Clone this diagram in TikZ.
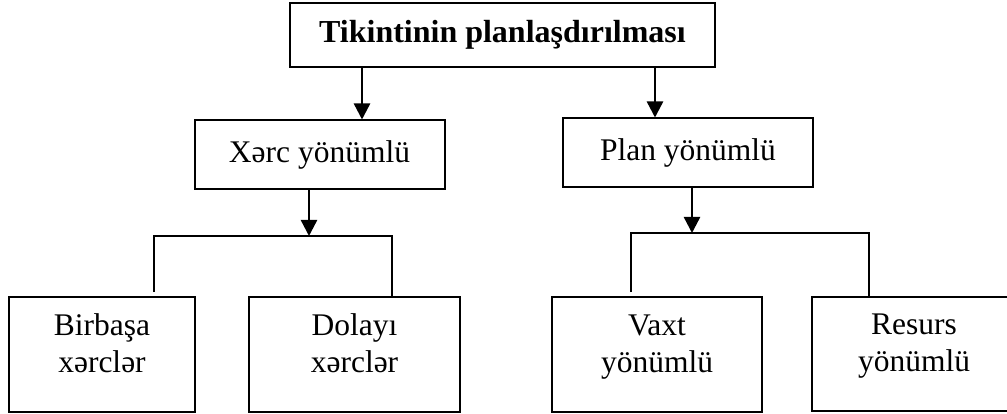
\documentclass[tikz,border=0pt]{standalone}
\usepackage{fontspec}
\setmainfont{Liberation Serif}
\usepackage{tikz}
\usetikzlibrary{arrows.meta,positioning,calc}
\tikzset{
  box/.style={draw=black,line width=2pt,align=center,inner sep=0pt,
    font=\fontsize{31.5}{37}\selectfont},
  headbox/.style={box,font=\fontsize{32}{37}\selectfont\bfseries,
    minimum width=425pt,minimum height=64pt},
  kindbox/.style={box,minimum width=250pt,minimum height=69pt},
  leafbox/.style={box,minimum height=115pt,text depth=22pt},
  flow/.style={-{Triangle[length=16pt,width=16pt]},line width=2.4pt,draw=black},
  link/.style={line width=2pt,draw=black}
}
\begin{document}
\begin{tikzpicture}[x=1pt,y=-1pt]
  \useasboundingbox (0,0) rectangle (1007,414);
  \node[headbox] (plan) at (502.5,35) {Tikintinin planlaşdırılması};
  \node[kindbox] (xerc) at (319.5,155) {Xərc yönümlü};
  \node[kindbox] (plantype) at (688,153) {Plan yönümlü};
  \node[leafbox,minimum width=186pt] (direct) at (102,354.5) {Birbaşa\\xərclər};
  \node[leafbox,minimum width=211pt] (indirect) at (354.5,354.5) {Dolayı\\xərclər};
  \node[leafbox,minimum width=210pt] (time) at (657,354.5) {Vaxt\\yönümlü};
  \node[leafbox,minimum width=204pt,minimum height=114pt] (resource) at (914,353.5) {Resurs\\yönümlü};
  \coordinate (xj) at (309,236);
  \coordinate (pj) at (692,233);
  \draw[flow] ([xshift=-140.5pt]plan.south) -- ([xshift=-140.5pt]plan.south |- xerc.north);
  \draw[flow] ([xshift=152.5pt]plan.south) -- ([xshift=152.5pt]plan.south |- plantype.north);
  \draw[flow] (xerc.south -| xj) -- (xj);
  \draw[flow] (plantype.south -| pj) -- (pj);
  \draw[link] ([xshift=52pt,yshift=4pt]direct.north) |- (xj) -| ([xshift=37.5pt]indirect.north);
  \draw[link] ([xshift=-26pt,yshift=4pt]time.north) |- (pj) -| ([xshift=-45pt]resource.north);
\end{tikzpicture}
\end{document}
